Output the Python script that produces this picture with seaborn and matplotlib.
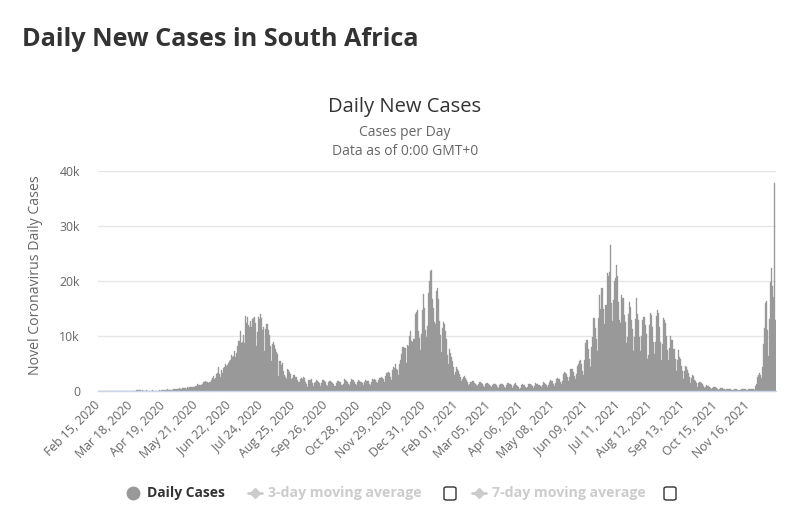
import numpy as np
import pandas as pd
import seaborn as sns
import matplotlib.pyplot as plt
from matplotlib.lines import Line2D
from matplotlib.patches import FancyBboxPatch

# Daily new cases in South Africa (month by month)
feb_2020 = [0] * 15  # Feb 15 - Feb 29
mar_2020 = [0, 0, 0, 0, 1, 0, 1, 1, 4, 0, 6, 3, 8, 14, 13, 11, 23, 31, 34, 52, 38, 34, 128, 152, 155, 218, 243, 17, 93, 46, 73]
apr_2020 = [27, 109, 82, 77, 63, 79, 40, 101, 68, 25, 27, 87, 61, 69, 95, 82, 178, 140, 251, 142, 138, 186, 318, 267, 155, 178, 267, 250, 354, 297]
may_2020 = [385, 313, 436, 447, 479, 327, 343, 484, 595, 595, 590, 421, 683, 498, 785, 680, 668, 720, 753, 792, 939, 917, 1218, 1077, 1095, 1055, 1234, 1649, 1637, 1788, 1716]
jun_2020 = [1671, 1450, 1619, 1685, 1953, 2312, 2657, 2228, 2431, 3177, 3212, 4288, 3025, 2591, 3809, 3338, 4190, 4302, 4966, 4515, 4678, 5021, 5488, 5568, 6579, 6215, 6334, 7210, 6130, 6945]
jul_2020 = [8124, 9063, 9064, 10853, 8773, 8971, 10134, 8810, 13674, 12348, 13497, 12058, 11554, 12757, 11655, 13172, 13285, 13449, 12316, 8170, 10744, 13373, 13104, 13944, 13285, 11155, 11552, 7232, 11362, 12185, 11046]
aug_2020 = [10107, 8195, 5377, 8559, 8909, 8307, 7712, 7131, 6670, 2810, 5385, 5426, 4805, 5104, 3692, 2902, 2541, 2258, 3916, 3880, 3398, 3147, 2128, 2419, 2912, 2998, 2614, 2505, 1998, 1668, 1564]
sep_2020 = [2138, 2378, 2263, 2563, 2420, 1589, 1218, 772, 1923, 2048, 1957, 2225, 1507, 1000, 1524, 1553, 1980, 1881, 1587, 1398, 827, 1439, 1994, 1923, 1826, 1645, 1034, 953, 1569, 1767]
oct_2020 = [1747, 1640, 1485, 1357, 970, 1444, 1898, 1778, 1690, 1604, 1166, 1049, 1304, 2093, 2003, 1898, 1573, 1290, 1116, 1556, 2148, 2037, 2086, 1659, 1222, 1079, 1640, 1966, 1838, 1720, 1698]
nov_2020 = [1389, 1047, 1705, 2024, 1848, 1879, 1850, 1292, 1032, 1606, 2095, 2001, 2172, 1911, 1672, 1478, 2058, 2384, 2408, 2592, 2412, 2147, 1596, 2713, 3320, 3220, 3398, 3310, 2512, 1994]
dec_2020 = [3813, 4400, 4125, 4932, 4011, 3745, 2838, 4942, 5661, 6709, 7999, 7884, 7739, 5163, 8319, 8166, 10008, 10939, 9126, 8973, 9445, 9502, 14046, 14305, 14796, 10939, 9580, 7458, 10371, 14796, 17710]
jan_2021 = [15002, 11021, 9877, 11859, 17762, 20047, 21832, 21980, 16726, 15046, 12601, 12267, 18227, 18680, 16785, 12666, 10143, 7082, 11500, 12500, 12200, 11000, 9500, 6500, 5000, 7600, 7000, 6200, 5375, 4400, 2900]
feb_2021 = [3440, 4403, 4025, 3722, 3051, 2627, 1745, 2116, 2629, 2702, 2276, 2029, 1591, 1152, 1184, 1568, 1897, 1784, 1542, 1362, 1110, 905, 1346, 1629, 1624, 1504, 1239, 823]
mar_2021 = [782, 1224, 1395, 1370, 1320, 1103, 852, 652, 1055, 1213, 1333, 1280, 1026, 759, 532, 1070, 1239, 1348, 1264, 1158, 780, 572, 1054, 1393, 1402, 1228, 1185, 1017, 578, 894, 1289]
apr_2021 = [1428, 1149, 946, 647, 434, 620, 1124, 1326, 1169, 1106, 804, 537, 812, 1260, 1300, 1240, 1105, 867, 626, 971, 1378, 1339, 1270, 1091, 937, 725, 1066, 1616, 1490, 1280]
may_2021 = [1167, 808, 1053, 1584, 1916, 1753, 1745, 1299, 904, 1443, 2133, 2321, 2183, 2220, 1602, 1185, 1875, 3163, 3442, 3312, 3125, 2456, 1870, 2536, 3993, 3919, 4000, 3460, 2780, 2116, 3085]
jun_2021 = [4515, 4831, 5500, 5600, 4900, 3600, 3000, 5600, 8800, 9300, 9300, 7600, 5900, 4400, 8000, 9900, 13300, 13200, 11500, 9400, 7300, 13200, 17500, 15000, 18800, 18700, 15000, 12200, 15700, 21400]
jul_2021 = [21000, 21600, 26485, 16000, 12800, 16600, 20000, 20500, 23000, 21000, 16200, 13000, 12400, 17500, 17000, 17000, 13900, 12500, 8800, 9900, 14000, 16200, 15300, 13000, 11300, 7200, 9800, 13100, 17000, 14000, 13000]
aug_2021 = [9800, 7200, 10000, 13000, 13500, 13500, 12000, 10400, 5900, 6500, 12000, 14200, 13900, 11700, 9000, 6800, 9000, 13700, 14700, 14100, 11600, 9000, 5600, 8500, 13300, 13000, 12300, 10000, 7400, 5600, 7800]
sep_2021 = [10000, 9300, 9200, 7700, 5900, 3700, 5600, 7500, 6200, 5800, 4600, 3600, 2200, 3600, 4600, 4400, 3800, 3300, 2500, 1400, 2300, 2900, 2700, 2000, 1800, 1400, 750, 1400, 1700, 1600]
oct_2021 = [1400, 1200, 900, 500, 700, 1100, 1000, 900, 700, 600, 300, 500, 800, 700, 700, 600, 450, 200, 400, 550, 550, 500, 400, 350, 150, 300, 400, 450, 350, 300, 250]
nov_2021 = [100, 250, 300, 350, 300, 250, 200, 100, 250, 350, 400, 350, 300, 250, 100, 300, 450, 450, 400, 350, 300, 250, 900, 1275, 2465, 2828, 3220, 2858, 2273, 4373]
dec_2021 = [8561, 11535, 16055, 16366, 11125, 6381, 13147, 19842, 22391, 19018, 17154, 37875, 13000]

months = [feb_2020, mar_2020, apr_2020, may_2020, jun_2020, jul_2020, aug_2020,
          sep_2020, oct_2020, nov_2020, dec_2020, jan_2021, feb_2021, mar_2021,
          apr_2021, may_2021, jun_2021, jul_2021, aug_2021, sep_2021, oct_2021,
          nov_2021, dec_2021]
cases = [v for m in months for v in m]

dates = pd.date_range("2020-02-15", periods=len(cases), freq="D")
df = pd.DataFrame({"day": np.arange(len(cases)), "cases": cases})

y_ticks = [0, 10000, 20000, 30000, 40000]
y_tick_labels = ["0", "10k", "20k", "30k", "40k"]

sns.set_theme(style="white")
plt.rcParams["font.family"] = ["Open Sans", "DejaVu Sans"]

fig = plt.figure(figsize=(8, 5.2), dpi=100)
ax = fig.add_axes([98 / 800, 1 - 391 / 520, (776 - 98) / 800, (391 - 171) / 520])

sns.barplot(data=df, x="day", y="cases", color="#999999", saturation=1,
            width=1.0, errorbar=None, edgecolor="#999999", linewidth=0.25, ax=ax)

ax.set_xlim(-0.5, len(cases) - 0.5)
ax.set_ylim(0, 40000)
ax.set_yticks(y_ticks)
ax.set_yticklabels(y_tick_labels)
tick_pos = list(range(0, len(cases), 32))
ax.set_xticks(tick_pos)
ax.set_xticklabels([dates[i].strftime("%b %d, %Y") for i in tick_pos],
                   rotation=45, ha="right", va="center", rotation_mode="anchor")
ax.tick_params(axis="x", length=0, pad=9, labelsize=8.8, colors="#666666")
ax.tick_params(axis="y", length=0, pad=13, labelsize=8.8, colors="#666666")
ax.set_xlabel("")
ax.set_ylabel("Novel Coronavirus Daily Cases", color="#666666", fontsize=10.2)
ax.yaxis.set_label_coords((43 - 98) / 678, (391 - 275) / 220)

ax.yaxis.grid(True, color="#e6e6e6", linewidth=1)
ax.xaxis.grid(False)
ax.set_axisbelow(True)
for s in ["top", "right", "left"]:
    ax.spines[s].set_visible(False)
ax.spines["bottom"].set_color("#ccd6eb")
ax.spines["bottom"].set_linewidth(1)

# titles
fig.text(22 / 800, 1 - 40 / 520, "Daily New Cases in South Africa", fontsize=18.2,
         fontweight="bold", color="#333333", va="center", ha="left")
fig.text(405 / 800, 1 - 107 / 520, "Daily New Cases", fontsize=14.5, color="#333333",
         ha="center", va="center")
fig.text(405 / 800, 1 - 133 / 520, "Cases per Day", fontsize=10, color="#666666",
         ha="center", va="center")
fig.text(405 / 800, 1 - 151 / 520, "Data as of 0:00 GMT+0", fontsize=10, color="#666666",
         ha="center", va="center")

# legend
ly = 1 - 493 / 520
fig.add_artist(Line2D([133 / 800], [ly], marker="o", markersize=9, color="#999999",
                      linestyle="none", transform=fig.transFigure))
fig.text(147 / 800, ly, "Daily Cases", fontsize=10, fontweight="bold", color="#333333",
         va="center", ha="left")
for x0, label, box_x in [(248, "3-day moving average", 444), (472, "7-day moving average", 664)]:
    fig.add_artist(Line2D([x0 / 800, (x0 + 14) / 800], [ly, ly], color="#cccccc",
                          linewidth=2, transform=fig.transFigure))
    fig.add_artist(Line2D([(x0 + 7) / 800], [ly], marker="D", markersize=5, color="#cccccc",
                          linestyle="none", transform=fig.transFigure))
    fig.text((x0 + 20) / 800, ly, label, fontsize=10.2, fontweight="bold", color="#cccccc",
             va="center", ha="left")
    fig.add_artist(FancyBboxPatch((box_x / 800, 1 - 500 / 520), 12 / 800, 13 / 520,
                                  boxstyle="round,pad=0,rounding_size=0.003",
                                  facecolor="white", edgecolor="#333333", linewidth=1,
                                  transform=fig.transFigure))

fig.savefig("out.png", dpi=100)
